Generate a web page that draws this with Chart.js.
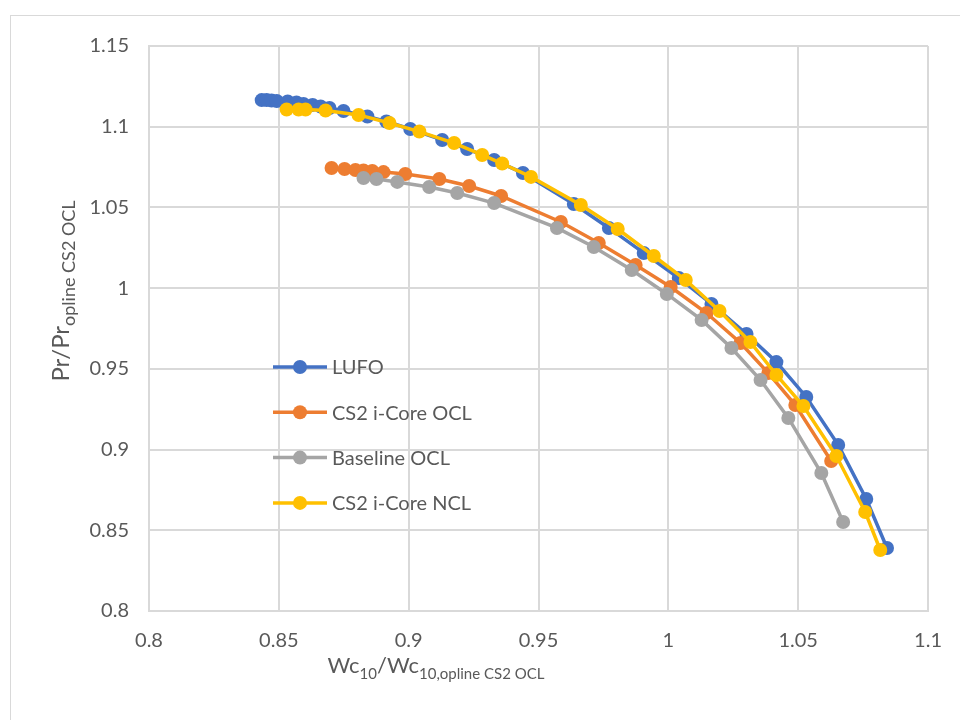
<!DOCTYPE html>
<html>
<head>
<meta charset="utf-8">
<script src="https://cdn.jsdelivr.net/npm/chart.js@4.4.0/dist/chart.umd.min.js"></script>
<style>
    html, body { margin: 0; padding: 0; background: #fff; }
    #moldura { position: absolute; left: 10px; top: 15px; width: 1000px; height: 1000px; border: 1px solid #d9d9d9; }
    #area { position: absolute; left: 0; top: 0; width: 960px; height: 720px; }
</style>
</head>
<body>
<div id="moldura"></div>
<div id="area"><canvas id="grafico" width="960" height="720"></canvas></div>
<script>
// ======== DADOS ========
const nomesSeries = ["LUFO", "CS2 i-Core OCL", "Baseline OCL", "CS2 i-Core NCL"];
const coresSeries = ["#4472C4", "#ED7D31", "#A5A5A5", "#FFC000"];

const lufoX = [0.8434, 0.8453, 0.8472, 0.8492, 0.8534, 0.8568, 0.8595, 0.8630, 0.8661, 0.8695,
    0.8749, 0.8841, 0.8914, 0.9006, 0.9129, 0.9225, 0.9329, 0.9440, 0.9636, 0.9771,
    0.9905, 1.0040, 1.0166, 1.0301, 1.0416, 1.0531, 1.0654, 1.0762, 1.0842];
const lufoY = [1.1165, 1.1165, 1.1162, 1.1159, 1.1156, 1.1150, 1.1141, 1.1135, 1.1125, 1.1116,
    1.1097, 1.1063, 1.1032, 1.0986, 1.0918, 1.0862, 1.0794, 1.0713, 1.0521, 1.0373,
    1.0218, 1.0063, 0.9902, 0.9716, 0.9542, 0.9326, 0.9029, 0.8694, 0.8390];

const oclX = [0.8703, 0.8753, 0.8795, 0.8826, 0.8860, 0.8903, 0.8987, 0.9118, 0.9233, 0.9356,
    0.9586, 0.9732, 0.9874, 1.0009, 1.0147, 1.0278, 1.0385, 1.0489, 1.0627];
const oclY = [1.0744, 1.0738, 1.0732, 1.0729, 1.0726, 1.0719, 1.0707, 1.0676, 1.0633, 1.0571,
    1.0410, 1.0280, 1.0143, 1.0007, 0.9846, 0.9660, 0.9474, 0.9276, 0.8929];

const baseX = [0.8826, 0.8876, 0.8956, 0.9079, 0.9187, 0.9329, 0.9571, 0.9713, 0.9859, 0.9994,
    1.0128, 1.0243, 1.0355, 1.0462, 1.0589, 1.0673];
const baseY = [1.0682, 1.0676, 1.0658, 1.0627, 1.0589, 1.0527, 1.0373, 1.0255, 1.0112, 0.9964,
    0.9803, 0.9629, 0.9431, 0.9196, 0.8855, 0.8551];

const nclX = [0.8530, 0.8576, 0.8603, 0.8680, 0.8807, 0.8926, 0.9041, 0.9175, 0.9283, 0.9360,
    0.9471, 0.9663, 0.9805, 0.9944, 1.0067, 1.0197, 1.0316, 1.0416, 1.0520, 1.0647,
    1.0758, 1.0816];
const nclY = [1.1107, 1.1107, 1.1107, 1.1100, 1.1073, 1.1023, 1.0970, 1.0899, 1.0825, 1.0772,
    1.0689, 1.0515, 1.0366, 1.0199, 1.0050, 0.9858, 0.9666, 0.9462, 0.9270, 0.8960,
    0.8613, 0.8378];

const rotulosX = ["0.8", "0.85", "0.9", "0.95", "1", "1.05", "1.1"];
const rotulosY = ["0.8", "0.85", "0.9", "0.95", "1", "1.05", "1.1", "1.15"];

const fonte = "Lato, 'Open Sans', sans-serif";
const corTexto = "#595959";
const corGrade = "#d9d9d9";

// ======== MONTA OS PONTOS ========
function pontos(xs, ys) {
    return xs.map((x, i) => ({ x: x, y: ys[i] }));
}

function rotuloMaisProximo(lista, valor) {
    const r = lista.find(l => Math.abs(parseFloat(l) - valor) < 1e-6);
    return r === undefined ? "" : r;
}

const pares = [[lufoX, lufoY], [oclX, oclY], [baseX, baseY], [nclX, nclY]];
const conjuntos = pares.map((p, i) => ({
    label: nomesSeries[i],
    data: pontos(p[0], p[1]),
    borderColor: coresSeries[i],
    backgroundColor: coresSeries[i],
    pointBackgroundColor: coresSeries[i],
    pointBorderWidth: 0,
    pointRadius: 7,
    pointHoverRadius: 7,
    borderWidth: 3.5,
    showLine: true,
    tension: 0,
    order: nomesSeries.length - i
}));

// ======== LEGENDA DENTRO DO GRÁFICO ========
const legendaInterna = {
    id: "legendaInterna",
    afterDatasetsDraw(chart) {
        const ctx = chart.ctx;
        const a = chart.chartArea;
        const x0 = a.left + 124;
        const y0 = a.top + 321;
        ctx.save();
        ctx.font = "20px " + fonte;
        ctx.textBaseline = "middle";
        chart.data.datasets.forEach((ds, i) => {
            const y = y0 + i * 45.3;
            ctx.strokeStyle = ds.borderColor;
            ctx.lineWidth = 3.5;
            ctx.beginPath();
            ctx.moveTo(x0, y);
            ctx.lineTo(x0 + 54, y);
            ctx.stroke();
            ctx.fillStyle = ds.borderColor;
            ctx.beginPath();
            ctx.arc(x0 + 27, y, 7, 0, Math.PI * 2);
            ctx.fill();
            ctx.fillStyle = corTexto;
            ctx.fillText(ds.label, x0 + 59, y + 1);
        });
        ctx.restore();
    }
};

// ======== TÍTULOS DOS EIXOS COM SUBSCRITO ========
function textoComSub(ctx, partes, cx, cy, tam, tamSub) {
    let total = 0;
    partes.forEach(p => {
        ctx.font = (p.sub ? tamSub : tam) + "px " + fonte;
        total += ctx.measureText(p.t).width;
    });
    let x = cx - total / 2;
    partes.forEach(p => {
        ctx.font = (p.sub ? tamSub : tam) + "px " + fonte;
        ctx.fillText(p.t, x, p.sub ? cy + 6 : cy);
        x += ctx.measureText(p.t).width;
    });
}

const titulosEixos = {
    id: "titulosEixos",
    afterDraw(chart) {
        const ctx = chart.ctx;
        const a = chart.chartArea;
        ctx.save();
        ctx.fillStyle = corTexto;
        ctx.textBaseline = "alphabetic";
        ctx.textAlign = "left";
        textoComSub(ctx, [
            { t: "Wc" }, { t: "10", sub: true }, { t: "/Wc" }, { t: "10,opline CS2 OCL", sub: true }
        ], a.left + 287, a.bottom + 62, 22, 15);

        ctx.translate(a.left - 80, a.top + 245);
        ctx.rotate(-Math.PI / 2);
        textoComSub(ctx, [{ t: "Pr/Pr" }, { t: "opline CS2 OCL", sub: true }], 0, 0, 24, 18);
        ctx.restore();
    }
};

// ======== GERA GRÁFICO ========
const ctx = document.getElementById("grafico").getContext("2d");
const grafico = new Chart(ctx, {
    type: "scatter",
    data: { datasets: conjuntos },
    plugins: [legendaInterna, titulosEixos],
    options: {
        responsive: false,
        animation: false,
        layout: { padding: { top: 46, right: 30, left: 0, bottom: 0 } },
        scales: {
            x: {
                type: "linear",
                min: 0.8,
                max: 1.1,
                afterFit: s => { s.height = 109; },
                grid: { color: corGrade, lineWidth: 2, drawTicks: false },
                border: { color: corGrade, width: 2 },
                ticks: {
                    stepSize: 0.05,
                    padding: 18,
                    color: corTexto,
                    font: { family: fonte, size: 20 },
                    callback: v => rotuloMaisProximo(rotulosX, v)
                }
            },
            y: {
                type: "linear",
                min: 0.8,
                max: 1.15,
                afterFit: s => { s.width = 149; },
                grid: { color: corGrade, lineWidth: 2, drawTicks: false },
                border: { color: corGrade, width: 2 },
                ticks: {
                    stepSize: 0.05,
                    padding: 20,
                    color: corTexto,
                    font: { family: fonte, size: 20 },
                    callback: v => rotuloMaisProximo(rotulosY, v)
                }
            }
        },
        plugins: {
            legend: { display: false },
            tooltip: { enabled: false }
        }
    }
});
</script>
</body>
</html>
